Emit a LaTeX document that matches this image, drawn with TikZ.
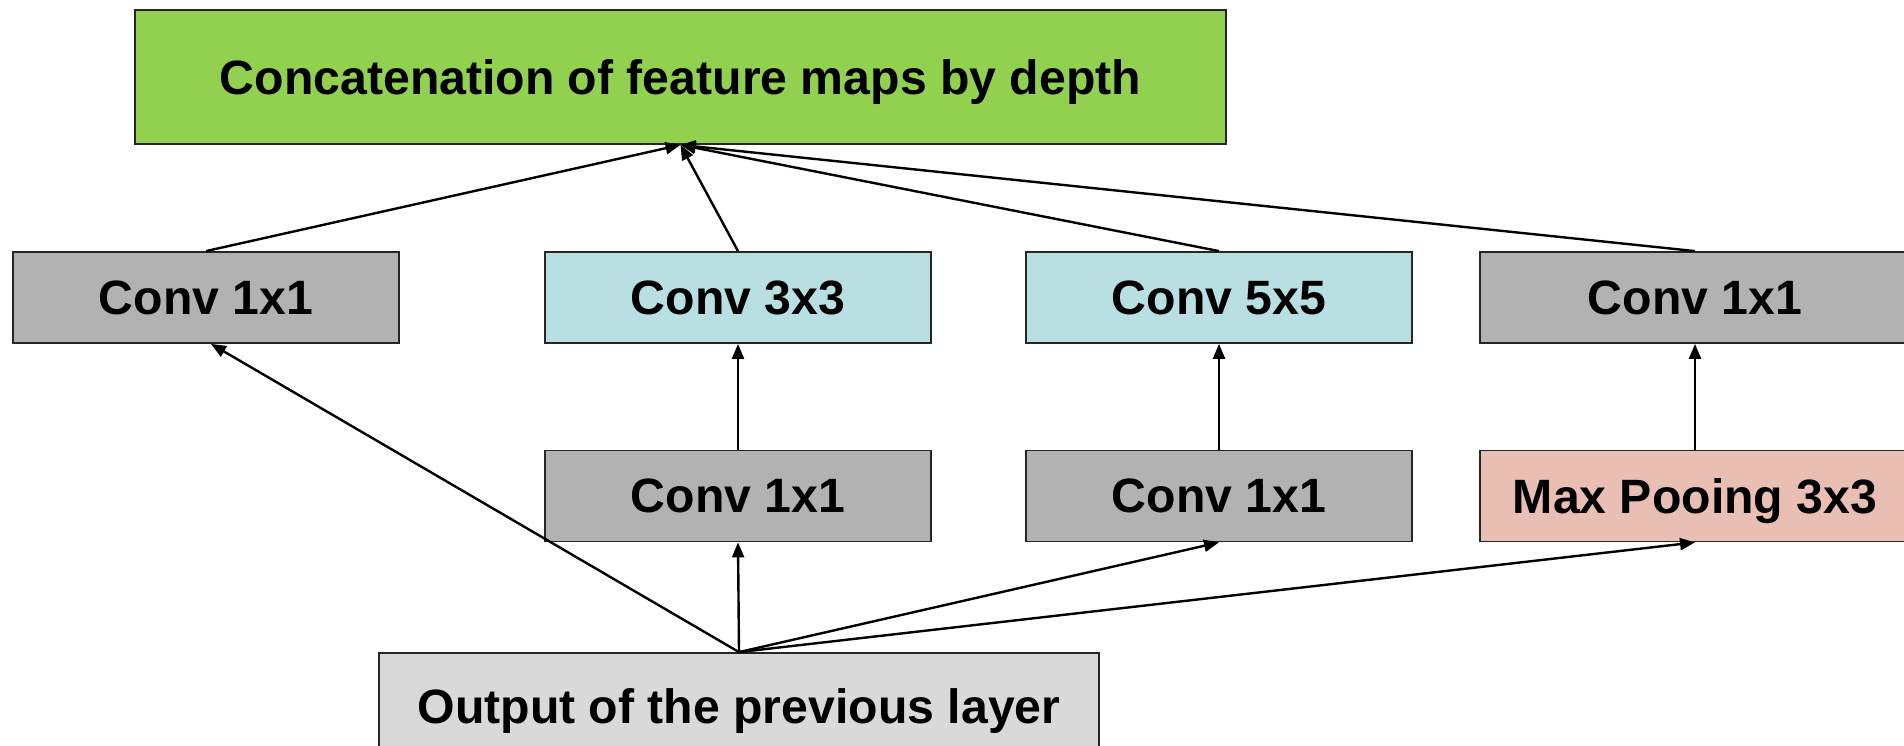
\documentclass[tikz,border=0pt]{standalone}
\usepackage{fontspec}
\setmainfont{Liberation Sans}
\usetikzlibrary{arrows.meta,positioning}

\definecolor{concatgreen}{HTML}{92D050}
\definecolor{convgray}{HTML}{B2B2B2}
\definecolor{convblue}{HTML}{B8DFE2}
\definecolor{poolpink}{HTML}{E9BFB4}
\definecolor{inputgray}{HTML}{D9D9D9}

\tikzset{
  layerbox/.style={draw=black!85, line width=1.8pt, rectangle,
    minimum width=386pt, minimum height=91pt, inner sep=0pt,
    text depth=0pt,
    font=\bfseries\fontsize{48.2}{58}\selectfont, text=black},
  conn/.style={line width=2.4pt, -{Triangle[length=15pt,width=12pt]}},
}

\begin{document}
\begin{tikzpicture}[x=1pt,y=-1pt]
  \useasboundingbox (0,0) rectangle (1904,746);
  \clip (0,0) rectangle (1904,746);

  % output of the concatenation
  \node[layerbox, fill=concatgreen, minimum width=1091pt, minimum height=134pt]
    (concat) at (680.5,77) {Concatenation of feature maps by depth};

  % upper row of branches
  \node[layerbox, fill=convgray]  (c1a) at (206,297.5)  {Conv 1x1};
  \node[layerbox, fill=convblue]  (c3)  at (738,297.5)  {Conv 3x3};
  \node[layerbox, fill=convblue]  (c5)  at (1219,297.5) {Conv 5x5};
  \node[layerbox, fill=convgray, minimum width=430pt] (c1d) at (1695,297.5) {Conv 1x1};

  % lower row of branches
  \node[layerbox, fill=convgray]  (c1b) at (738,496)  {Conv 1x1};
  \node[layerbox, fill=convgray]  (c1c) at (1219,496) {Conv 1x1};
  \node[layerbox, fill=poolpink, minimum width=430pt] (pool) at (1695,496) {Max Pooing 3x3};

  % input of the module
  \node[layerbox, fill=inputgray, minimum width=720pt, minimum height=106pt]
    (prev) at (739,706) {Output of the previous layer};

  % input to branches
  \draw[conn] (prev.north) -- ([xshift=5pt]c1a.south);
  \draw[conn] (prev.north) -- (c1b.south);
  \draw[conn] (prev.north) -- (c1c.south);
  \draw[conn] (prev.north) -- (pool.south);

  % reductions to the larger convolutions
  \draw[conn] (c1b.north) -- (c3.south);
  \draw[conn] (c1c.north) -- (c5.south);
  \draw[conn] (pool.north) -- (c1d.south);

  % branches to the concatenation
  \draw[conn] (c1a.north) -- (concat.south);
  \draw[conn] (c3.north)  -- (concat.south);
  \draw[conn] (c5.north)  -- (concat.south);
  \draw[conn] (c1d.north) -- (concat.south);
\end{tikzpicture}
\end{document}
